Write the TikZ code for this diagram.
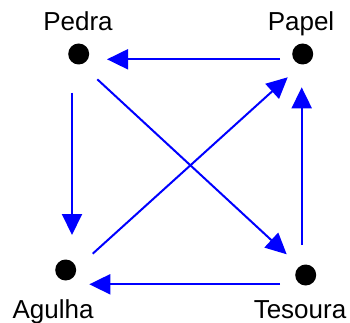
\documentclass[tikz,border=0pt]{standalone}
\usepackage{fontspec}
\setmainfont{Liberation Sans}
\usetikzlibrary{arrows.meta}
\begin{document}
\begin{tikzpicture}[x=1pt,y=-1pt,
  dot/.style={circle,fill=black,inner sep=0pt,minimum size=21pt},
  lbl/.style={font=\fontsize{26}{30}\selectfont,anchor=base,inner sep=0pt},
  beats/.style={draw=blue,line width=2pt,-{Triangle[length=21pt,width=20pt]}}]
  \useasboundingbox (0,0) rectangle (350,323);
  % the four players
  \node[dot] (pedra)   at (78.7,54)  {};
  \node[dot] (papel)   at (302.7,54) {};
  \node[dot] (agulha)  at (65.7,270) {};
  \node[dot] (tesoura) at (305.7,275) {};
  % their names
  \node[lbl] (tpedra)   at (78,31)   {Pedra};
  \node[lbl] (tpapel)   at (301,31)  {Papel};
  \node[lbl] (tagulha)  at (53,318)  {Agulha};
  \node[lbl] (ttesoura) at (300,318) {Tesoura};
  % who beats whom
  \draw[beats] ([shift={(-22.7,5.3)}]papel.center)   -- ([shift={(28.3,5.3)}]pedra.center);
  \draw[beats] ([shift={(-6.7,38.7)}]pedra.center)   -- ([shift={(6.3,-35)}]agulha.center);
  \draw[beats] ([shift={(27,-16.3)}]agulha.center)   -- ([shift={(-15,23.3)}]papel.center);
  \draw[beats] ([shift={(18.6,25.3)}]pedra.center)   -- ([shift={(-19,-20.7)}]tesoura.center);
  \draw[beats] ([shift={(-4,-30)}]tesoura.center)    -- ([shift={(-1,33.3)}]papel.center);
  \draw[beats] ([shift={(-25.7,9.3)}]tesoura.center) -- ([shift={(23.6,14.3)}]agulha.center);
\end{tikzpicture}
\end{document}
